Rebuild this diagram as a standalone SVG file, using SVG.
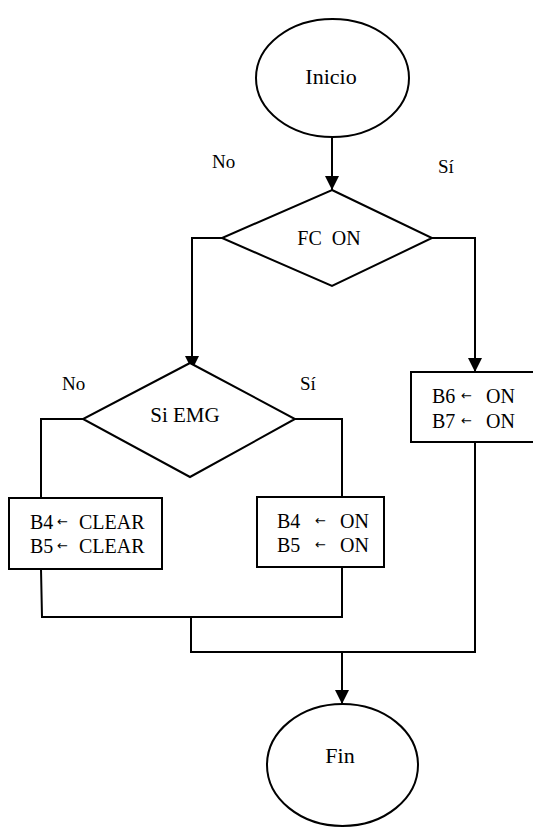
<svg xmlns="http://www.w3.org/2000/svg" width="533" height="827" viewBox="0 0 533 827">
<style>
.s{fill:#fff;stroke:#000;stroke-width:2}
.c{fill:none;stroke:#000;stroke-width:2}
text{font-family:"Liberation Serif","Times New Roman",serif;fill:#000;white-space:pre}
.a{font-size:13px;font-family:"DejaVu Sans",sans-serif}
</style>
<defs>
<marker id="ah" markerUnits="userSpaceOnUse" markerWidth="14" markerHeight="15" refX="14" refY="7" orient="auto">
<path d="M0,0 L14,7 L0,14 Z" fill="#000"/>
</marker>
</defs>
<rect width="533" height="827" fill="#fff"/>
<g id="connectors">
<line class="c" x1="332" y1="137" x2="332" y2="190" marker-end="url(#ah)"/>
<polyline class="c" points="222,238 192,238 192,370" marker-end="url(#ah)"/>
<polyline class="c" points="432,238 475,238 475,372" marker-end="url(#ah)"/>
<polyline class="c" points="83,419 41,419 41,498"/>
<polyline class="c" points="295,419 342,419 342,497"/>
<polyline class="c" points="41,569 42,617 342,617 342,567"/>
<polyline class="c" points="191,617 191,652 475,652 475,442"/>
<line class="c" x1="342" y1="652" x2="342" y2="704" marker-end="url(#ah)"/>
</g>
<g id="inicio">
<ellipse class="s" cx="332.5" cy="78" rx="76.5" ry="59"/>
<text x="331" y="84" font-size="22" text-anchor="middle">Inicio</text>
</g>
<g id="fc-on">
<polygon class="s" points="332,190 432,238 332,286 222,238"/>
<text x="329" y="245" font-size="20" text-anchor="middle">FC  ON</text>
</g>
<g id="labels1">
<text x="212" y="168" font-size="19">No</text>
<text x="438" y="173" font-size="19">Sí</text>
</g>
<g id="b6b7">
<rect class="s" x="411" y="372" width="124" height="70"/>
<text x="432" y="403" font-size="20">B6</text>
<text x="461" y="400" class="a">←</text>
<text x="486" y="403" font-size="20">ON</text>
<text x="432" y="428" font-size="20">B7</text>
<text x="461" y="425" class="a">←</text>
<text x="486" y="428" font-size="20">ON</text>
</g>
<g id="si-emg">
<polygon class="s" points="190,363 295,419 190,477 83,419"/>
<text x="185" y="422" font-size="21" text-anchor="middle">Si EMG</text>
</g>
<g id="labels2">
<text x="62" y="390" font-size="19">No</text>
<text x="300" y="390" font-size="19">Sí</text>
</g>
<g id="b4b5-clear">
<rect class="s" x="9" y="498" width="153" height="71"/>
<text x="30" y="529" font-size="20">B4</text>
<text x="57" y="526" class="a">←</text>
<text x="79" y="529" font-size="20">CLEAR</text>
<text x="30" y="553" font-size="20">B5</text>
<text x="57" y="550" class="a">←</text>
<text x="79" y="553" font-size="20">CLEAR</text>
</g>
<g id="b4b5-on">
<rect class="s" x="257" y="497" width="127" height="70"/>
<text x="277" y="528" font-size="20">B4</text>
<text x="315" y="525" class="a">←</text>
<text x="340" y="528" font-size="20">ON</text>
<text x="277" y="552" font-size="20">B5</text>
<text x="315" y="549" class="a">←</text>
<text x="340" y="552" font-size="20">ON</text>
</g>
<g id="fin">
<ellipse class="s" cx="342.5" cy="765" rx="75.5" ry="61"/>
<text x="340" y="763" font-size="22" text-anchor="middle">Fin</text>
</g>
</svg>
